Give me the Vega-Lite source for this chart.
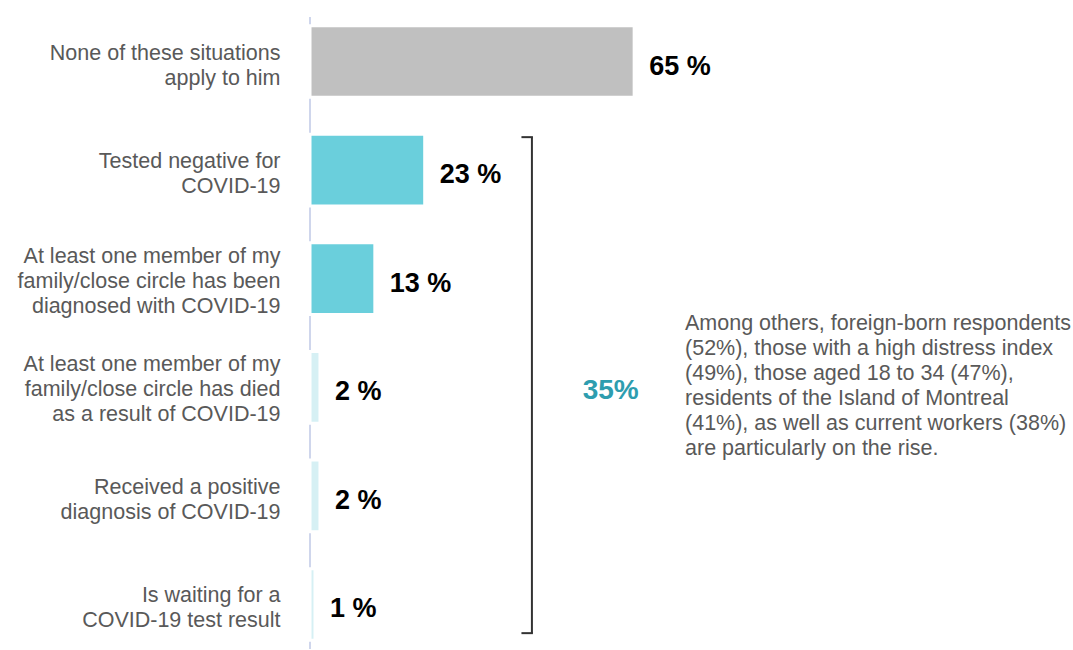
{
  "$schema": "https://vega.github.io/schema/vega-lite/v6.json",
  "width": 763,
  "height": 632,
  "autosize": {"type": "none"},
  "padding": {"left": 310, "top": 17, "right": 0, "bottom": 1},
  "config": {"view": {"stroke": null}, "font": "Liberation Sans"},
  "datasets": {
    "bars": [
      {"label": "None of these situations|apply to him", "value": 65, "kind": "none", "display": "65 %"},
      {"label": "Tested negative for|COVID-19", "value": 23, "kind": "major", "display": "23 %"},
      {"label": "At least one member of my|family/close circle has been|diagnosed with COVID-19", "value": 13, "kind": "major", "display": "13 %"},
      {"label": "At least one member of my|family/close circle has died|as a result of COVID-19", "value": 2, "kind": "minor", "display": "2 %"},
      {"label": "Received a positive|diagnosis of COVID-19", "value": 2, "kind": "minor", "display": "2 %"},
      {"label": "Is waiting for a|COVID-19 test result", "value": 1, "kind": "minor", "display": "1 %"}
    ],
    "bracket": [
      {"first": "Tested negative for|COVID-19", "last": "Is waiting for a|COVID-19 test result"}
    ],
    "note": [
      {"anchor": "At least one member of my|family/close circle has died|as a result of COVID-19", "pct": "35%", "text": "Among others, foreign-born respondents|(52%), those with a high distress index|(49%), those aged 18 to 34 (47%),|residents of the Island of Montreal|(41%), as well as current workers (38%)|are particularly on the rise."}
    ]
  },
  "data": {"name": "bars"},
  "layer": [
    {
      "mark": {"type": "rule", "color": "#CFD6EC", "strokeWidth": 2},
      "encoding": {
        "x": {"datum": 0, "type": "quantitative", "scale": {"domain": [0, 153], "nice": false, "zero": true}, "axis": null}
      }
    },
    {
      "mark": {"type": "bar", "stroke": "white", "strokeWidth": 3},
      "encoding": {
        "x": {"field": "value", "type": "quantitative", "scale": {"domain": [0, 153], "nice": false}, "axis": null},
        "y": {
          "field": "label",
          "type": "nominal",
          "sort": null,
          "scale": {
            "domain": [
              "None of these situations|apply to him",
              "Tested negative for|COVID-19",
              "At least one member of my|family/close circle has been|diagnosed with COVID-19",
              "At least one member of my|family/close circle has died|as a result of COVID-19",
              "Received a positive|diagnosis of COVID-19",
              "Is waiting for a|COVID-19 test result"
            ],
            "paddingInner": 0.34,
            "paddingOuter": 0.08
          },
          "axis": {
            "title": null,
            "domain": false,
            "ticks": false,
            "labelPadding": 30,
            "labelFontSize": 21.5,
            "labelColor": "#595959",
            "labelLineHeight": 25,
            "labelLimit": 320,
            "labelFont": "Liberation Sans",
            "labelOffset": {"condition": {"test": "indexof(datum.value, 'family') >= 0", "value": -22}, "value": -8},
            "labelExpr": "split(datum.label, '|')"
          }
        },
        "color": {
          "field": "kind",
          "type": "nominal",
          "scale": {"domain": ["none", "major", "minor"], "range": ["#C0C0C0", "#6ACFDC", "#D6F0F4"]},
          "legend": null
        }
      }
    },
    {
      "mark": {"type": "text", "align": "left", "baseline": "middle", "dx": 15, "dy": 5, "fontSize": 27, "fontWeight": "bold", "color": "#000000"},
      "encoding": {
        "x": {"field": "value", "type": "quantitative"},
        "y": {"field": "label", "type": "nominal"},
        "text": {"field": "display"}
      }
    },
    {
      "data": {"name": "bracket"},
      "mark": {"type": "rule", "color": "#333333", "strokeWidth": 2},
      "encoding": {
        "x": {"datum": 44.5, "type": "quantitative"},
        "y": {"field": "first", "type": "nominal", "bandPosition": 0.04},
        "y2": {"field": "last", "bandPosition": 0.9}
      }
    },
    {
      "data": {"name": "bracket"},
      "mark": {"type": "rule", "color": "#333333", "strokeWidth": 2},
      "encoding": {
        "x": {"datum": 42.4, "type": "quantitative"},
        "x2": {"datum": 44.7},
        "y": {"field": "first", "type": "nominal", "bandPosition": 0.04}
      }
    },
    {
      "data": {"name": "bracket"},
      "mark": {"type": "rule", "color": "#333333", "strokeWidth": 2},
      "encoding": {
        "x": {"datum": 42.4, "type": "quantitative"},
        "x2": {"datum": 44.7},
        "y": {"field": "last", "type": "nominal", "bandPosition": 0.9}
      }
    },
    {
      "data": {"name": "note"},
      "mark": {"type": "text", "align": "center", "baseline": "middle", "dy": 4, "fontSize": 28, "fontWeight": "bold", "color": "#2E9DAF"},
      "encoding": {
        "x": {"datum": 60.3, "type": "quantitative"},
        "y": {"field": "anchor", "type": "nominal"},
        "text": {"field": "pct"}
      }
    },
    {
      "data": {"name": "note"},
      "mark": {"type": "text", "align": "left", "baseline": "middle", "dy": -63, "fontSize": 21.5, "lineHeight": 25, "lineBreak": "|", "color": "#595959"},
      "encoding": {
        "x": {"datum": 75.2, "type": "quantitative"},
        "y": {"field": "anchor", "type": "nominal"},
        "text": {"field": "text"}
      }
    }
  ]
}
